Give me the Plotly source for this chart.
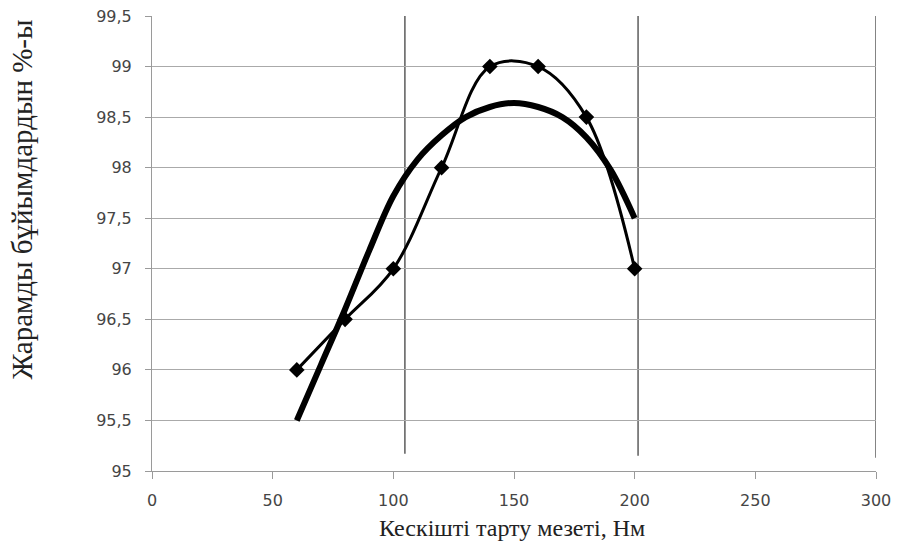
import plotly.graph_objects as go

# Measured data series (markers)
x_meas = [60, 80, 100, 120, 140, 160, 180, 200]
y_meas = [96.0, 96.5, 97.0, 98.0, 99.0, 99.0, 98.5, 97.0]

# Trend curve
x_trend = [60, 70, 80, 90, 100, 110, 120, 130, 140, 150, 160, 170, 180, 190, 200]
y_trend = [95.50, 96.05, 96.60, 97.18, 97.72, 98.08, 98.32, 98.50, 98.60, 98.64,
           98.60, 98.50, 98.30, 97.98, 97.50]

x_ticks = [0, 50, 100, 150, 200, 250, 300]
y_ticks = [95, 95.5, 96, 96.5, 97, 97.5, 98, 98.5, 99, 99.5]
y_tick_text = ["95", "95,5", "96", "96,5", "97", "97,5", "98", "98,5", "99", "99,5"]

x_title = "Кескішті тарту мезеті, Нм"
y_title = "Жарамды бұйымдардын %-ы"

# Vertical reference lines seen in the picture: (x, bottom y)
vlines_x = [104.8, 201.4, 300]
vlines_bottom = [95.17, 95.15, 95.13]

tick_font = dict(family="DejaVu Sans", size=16, color="#454545")

fig = go.Figure()
fig.add_trace(go.Scatter(
    x=x_trend, y=y_trend, mode="lines",
    line=dict(color="black", width=6, shape="spline", smoothing=1.0),
    showlegend=False, hoverinfo="skip"))
fig.add_trace(go.Scatter(
    x=x_meas, y=y_meas, mode="lines+markers",
    line=dict(color="black", width=3, shape="spline", smoothing=1.0),
    marker=dict(symbol="diamond", size=12, color="black"),
    showlegend=False))

for vx, vb in zip(vlines_x, vlines_bottom):
    fig.add_shape(type="line", xref="x", yref="y", x0=vx, x1=vx, y0=vb, y1=99.5,
                  line=dict(color="#333333", width=1.2), layer="below")

fig.add_annotation(text=x_title, xref="paper", yref="paper", x=0.497, y=-0.125,
                   xanchor="center", yanchor="middle", showarrow=False,
                   font=dict(family="Liberation Serif", size=24, color="#222222"))
fig.add_annotation(text=y_title, xref="paper", yref="paper", x=-0.18, y=0.596,
                   xanchor="center", yanchor="middle", showarrow=False, textangle=-90,
                   font=dict(family="Liberation Serif", size=29, color="#222222"))

fig.update_layout(
    width=900, height=549,
    margin=dict(l=152, r=24, t=16, b=78),
    paper_bgcolor="white", plot_bgcolor="white",
    font=tick_font,
)
fig.update_xaxes(
    range=[0, 300], tickvals=x_ticks, ticktext=[str(v) for v in x_ticks],
    showgrid=False, zeroline=False, automargin=False,
    showline=True, linecolor="#9a9a9a", linewidth=1,
    ticks="outside", ticklen=7, tickcolor="#9a9a9a",
    ticklabelstandoff=8,
    tickfont=tick_font,
)
fig.update_yaxes(
    range=[95, 99.5], tickvals=y_ticks, ticktext=y_tick_text,
    showgrid=True, gridcolor="#aaaaaa", gridwidth=1, zeroline=False, automargin=False,
    showline=True, linecolor="#9a9a9a", linewidth=1,
    ticks="outside", ticklen=6, tickcolor="#9a9a9a",
    ticklabelstandoff=10,
    tickfont=tick_font,
)

fig.write_html("out.html")
